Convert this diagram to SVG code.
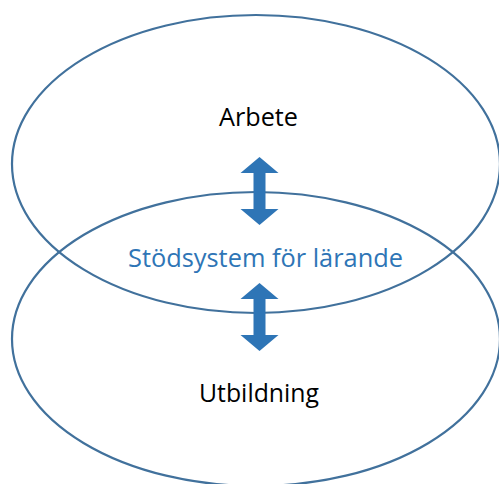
<svg xmlns="http://www.w3.org/2000/svg" width="499" height="484" viewBox="0 0 499 484">
<style>
.ell{fill:none;stroke:#41719c;stroke-width:2.2}
.lbl{font-family:"Open Sans","Noto Sans","Liberation Sans",sans-serif;font-size:26px;text-anchor:middle}
.arr{fill:#2e75b6}
</style>
<rect width="499" height="484" fill="#fff"/>
<g id="arbete">
<ellipse class="ell" cx="256" cy="164" rx="244" ry="149"/>
<text class="lbl" x="258.5" y="126" fill="#000" textLength="79" lengthAdjust="spacingAndGlyphs">Arbete</text>
</g>
<g id="utbildning">
<ellipse class="ell" cx="256" cy="339" rx="244" ry="147"/>
<text class="lbl" x="259" y="402" fill="#000" textLength="120" lengthAdjust="spacingAndGlyphs">Utbildning</text>
</g>
<g id="stodsystem">
<text class="lbl" x="265.5" y="267" fill="#2e75b6" textLength="275" lengthAdjust="spacingAndGlyphs">Stödsystem för lärande</text>
</g>
<g id="connectors">
<path class="arr" d="M259.5,157 L278.5,173 L265.5,173 L265.5,209 L278.5,209 L259.5,225 L240.5,209 L253.5,209 L253.5,173 L240.5,173 Z"/>
<path class="arr" d="M259.5,283 L278.5,299 L265.5,299 L265.5,335 L278.5,335 L259.5,351 L240.5,335 L253.5,335 L253.5,299 L240.5,299 Z"/>
</g>
</svg>
